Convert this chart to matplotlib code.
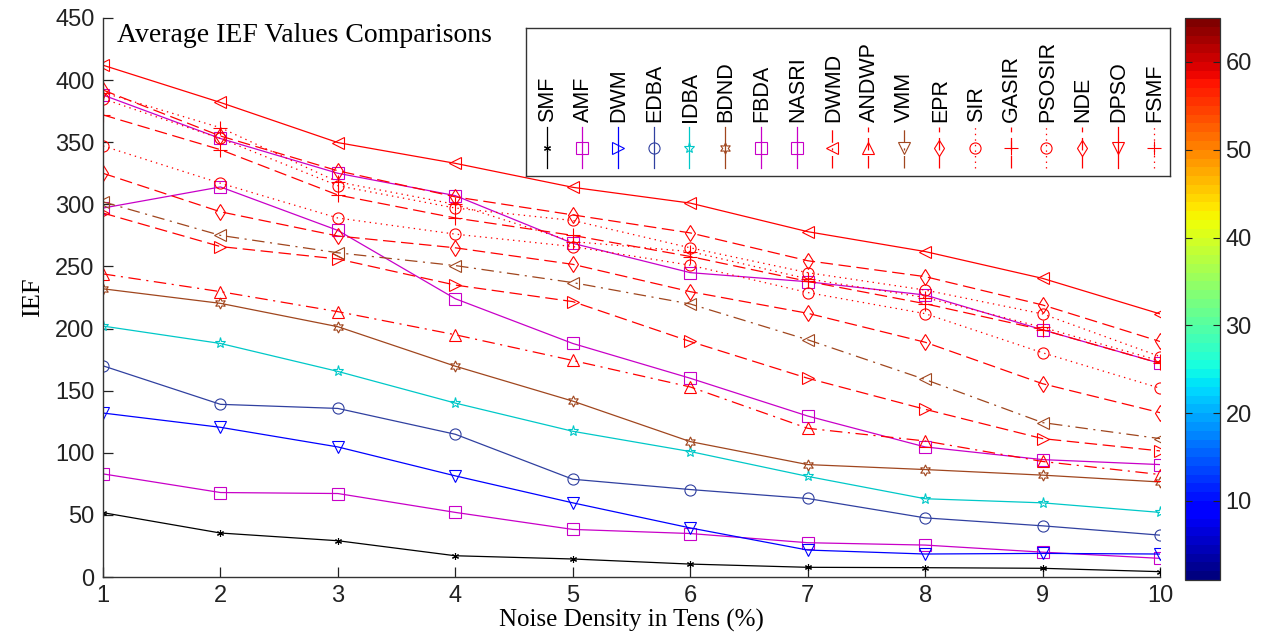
import numpy as np
import matplotlib
matplotlib.use("Agg")
import matplotlib.pyplot as plt
from matplotlib.lines import Line2D
from matplotlib import cm, colors

plt.rcParams['lines.scale_dashes'] = False

# ---------------- data ----------------
noise = [1, 2, 3, 4, 5, 6, 7, 8, 9, 10]
smf    = [51.8, 35.4, 29.2, 17.1, 14.5, 10.4, 7.8, 7.5, 7.0, 4.3]
amf    = [83, 68, 67.2, 52, 38.3, 35, 27.6, 25.7, 20, 15]
dwm    = [132, 120.5, 104.7, 81.4, 59.7, 39.5, 21.7, 18.5, 19.0, 18.5]
edba   = [170, 139, 135.7, 114.9, 78.7, 70.4, 63.2, 47.6, 41.2, 33.7]
idba   = [202, 188, 165.5, 140, 117.3, 101, 81, 63, 59.7, 52]
bdnd   = [232, 220.3, 201.5, 169.7, 141.6, 109, 90.5, 86.5, 82, 76.5]
fbda   = [297, 314, 279, 224, 188, 160, 129.6, 104.7, 94.5, 90.5]
nasri  = [388, 353, 325, 307, 268.6, 245, 237.7, 227, 199, 172]
dwmd   = [244, 229.7, 213.6, 195, 174.3, 153, 119.7, 109.5, 93, 82.5]
andwp  = [293, 266, 256, 235, 221.7, 189.6, 160, 135, 111.4, 101.5]
vmm    = [302, 275, 261, 250.7, 237, 219.8, 191, 159, 124.3, 111.4]
epr    = [325, 294, 274.5, 265, 251.7, 229.7, 212.3, 189, 155.6, 132.3]
sir    = [347, 317, 289, 276, 266, 251, 229, 212, 180.5, 152]
gasir  = [372, 344, 307.5, 289, 275, 258, 238, 220, 199, 172]
psosir = [385, 353, 315, 297, 287, 265, 245, 231, 211.8, 177.5]
nde    = [392, 355, 327, 306, 291.5, 277, 254.6, 241.8, 219, 189.6]
dpso   = [412, 382, 349.7, 333, 313.7, 301, 278, 262, 240.4, 211.8]
fsmf   = [390, 361.7, 318, 300, 270, 262, 240, 225, 201, 174]

names = ['SMF', 'AMF', 'DWM', 'EDBA', 'IDBA', 'BDND', 'FBDA', 'NASRI', 'DWMD',
         'ANDWP', 'VMM', 'EPR', 'SIR', 'GASIR', 'PSOSIR', 'NDE', 'DPSO', 'FSMF']
series = [smf, amf, dwm, edba, idba, bdnd, fbda, nasri, dwmd,
          andwp, vmm, epr, sir, gasir, psosir, nde, dpso, fsmf]
xticks = [1, 2, 3, 4, 5, 6, 7, 8, 9, 10]
yticks = [0, 50, 100, 150, 200, 250, 300, 350, 400, 450]
cbar_ticks = [10, 20, 30, 40, 50, 60]

# ---------------- styles ----------------
RED = '#FF0000'
MAG = '#C800C8'
BRN = '#A0461E'
NAVY = '#3040A0'
CYAN = '#00C8C8'
BLUE = '#0000FF'
SOLID = '-'
DASH = (0, (9, 4))
DOT = (0, (1, 3))
DASHDOT = (0, (9, 4, 1.5, 4))
STAR5 = '*'
STAR6 = (6, 1, 0)
AST = (6, 2, 0)

colors_ = ['k', MAG, BLUE, NAVY, CYAN, BRN, MAG, MAG, RED,
           RED, BRN, RED, RED, RED, RED, RED, RED, RED]
styles = [SOLID, SOLID, SOLID, SOLID, SOLID, SOLID, SOLID, SOLID, DASHDOT,
          DASH, DASHDOT, DASH, DOT, DASH, DOT, DASH, SOLID, DOT]
markers = [AST, 's', 'v', 'o', STAR5, STAR6, 's', 's', '^',
           '>', '<', 'd', 'o', '+', 'o', 'd', '<', '+']
msizes = [5, 8, 8, 8, 8, 8, 8, 8, 9, 9, 9, 8, 8, 10, 8, 8, 9, 10]
# markers as they appear in the (rotated) legend
leg_markers = [AST, 's', '>', 'o', STAR5, STAR6, 's', 's', '<',
               '^', 'v', 'd', 'o', '+', 'o', 'd', 'v', '+']

sans = ['Liberation Sans', 'DejaVu Sans']
serif = ['Liberation Serif', 'DejaVu Serif']

W, H = 1262, 633
fig = plt.figure(figsize=(W / 100, H / 100), dpi=100)
ax = fig.add_axes([103 / W, 1 - 577 / H, (1160 - 103) / W, (577 - 18) / H])

for vals, c, ls, mk, ms in zip(series, colors_, styles, markers, msizes):
    ax.plot(noise, vals, color=c, linestyle=ls, linewidth=0.9, marker=mk,
            markersize=ms, markerfacecolor='none', markeredgecolor=c,
            markeredgewidth=0.8)

ax.set_xlim(1, 10)
ax.set_ylim(0, 450)
ax.set_xticks(xticks)
ax.set_yticks(yticks)
ax.tick_params(direction='in', length=7, width=0.9, colors='#222222',
               labelsize=17, pad=6)
for lab in ax.get_xticklabels() + ax.get_yticklabels():
    lab.set_fontfamily(sans)
for s in ['top', 'right']:
    ax.spines[s].set_visible(False)
for s in ['left', 'bottom']:
    ax.spines[s].set_color('#333333')
    ax.spines[s].set_linewidth(1.0)

ax.set_xlabel('Noise Density in Tens (%)', fontsize=18, family=serif)
ax.xaxis.set_label_coords(0.5, -(609 - 577) / 559)
ax.set_ylabel('IEF', fontsize=19, family=serif, labelpad=8)
fig.text(117 / W, 1 - 42 / H, 'Average IEF Values Comparisons',
         fontsize=20, family=serif, va='baseline', ha='left')

# ---------------- custom (rotated) legend ----------------
lx0, lx1, ly0, ly1 = 526, 1170, 28, 176
lax = fig.add_axes([lx0 / W, 1 - ly1 / H, (lx1 - lx0) / W, (ly1 - ly0) / H])
lax.set_xlim(lx0, lx1)
lax.set_ylim(ly1, ly0)
lax.set_xticks([])
lax.set_yticks([])
for s in lax.spines.values():
    s.set_color('#333333')
    s.set_linewidth(1.0)
step = 35.7
for i, (nm, c, ls, mk, ms) in enumerate(zip(names, colors_, styles, leg_markers, msizes)):
    xp = 546.7 + i * step
    lax.add_line(Line2D([xp, xp], [168.3, 126.7], color=c, linestyle=ls, linewidth=0.9))
    lax.add_line(Line2D([xp], [147.7], color=c, marker=mk, markersize=ms,
                        markerfacecolor='none', markeredgecolor=c, markeredgewidth=0.8))
    lax.text(xp + 1, 121.5, nm, rotation=90, ha='center', va='bottom',
             fontsize=15.5, family=sans)

# ---------------- colorbar ----------------
cax = fig.add_axes([1185 / W, 1 - 580 / H, (1220 - 1185) / W, (580 - 18) / H])
cmap = plt.get_cmap('jet', 64)
norm = colors.Normalize(vmin=1, vmax=65)
cb = fig.colorbar(cm.ScalarMappable(norm=norm, cmap=cmap), cax=cax, ticks=cbar_ticks)
cb.outline.set_edgecolor('#333333')
cb.outline.set_linewidth(0.9)
cax.tick_params(direction='in', length=5, width=0.8, labelsize=17, pad=4,
                left=True, right=True, colors='#222222')
for lab in cax.get_yticklabels():
    lab.set_fontfamily(sans)

fig.savefig('out.png', dpi=100)
